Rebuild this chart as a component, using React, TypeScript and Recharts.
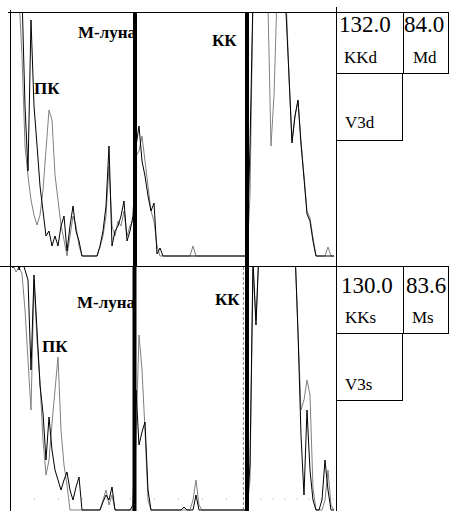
import React from 'react';
import { LineChart, Line, XAxis, YAxis, ReferenceLine } from 'recharts';

// one sample every 3 px of the trace, 109 samples per trace
const sampleIndex = Array.from({ length: 109 }, (_, i) => i);

// trace heights above the baseline (values over 244 run off the top of the panel)
const topGray = [
  260, 260, 260, 260, 200, 110, 80, 56, 41, 31,
  41, 66, 106, 146, 136, 81, 56, 31, 16, 0,
  20, 40, 30, 10, 0, 0, 0, 0, 0, 0,
  9, 20, 40, 90, 30, 20, 35, 30, 45, 20,
  30, 35, 100, 105, 120, 95, 70, 45, 35, 10,
  0, 0, 0, 0, 0, 0, 0, 0, 0, 0,
  0, 10, 0, 0, 0, 0, 0, 0, 0, 0,
  0, 0, 0, 0, 0, 0, 0, 0, 0, 0,
  60, 260, 260, 260, 260, 260, 250, 110, 160, 260,
  260, 260, 260, 180, 115, 140, 155, 115, 80, 45,
  38, 18, 0, 0, 0, 0, 9, 0, 0,
];
const topBlack = [
  260, 260, 260, 260, 260, 150, 85, 236, 150, 111,
  70, 45, 20, 25, 10, 20, 10, 30, 40, 5,
  30, 50, 25, 15, 0, 0, 0, 0, 0, 0,
  10, 25, 50, 110, 10, 25, 30, 40, 55, 15,
  25, 40, 110, 130, 95, 80, 60, 45, 53, 2,
  8, 0, 0, 0, 0, 0, 0, 0, 0, 0,
  0, 0, 0, 0, 0, 0, 0, 0, 0, 0,
  0, 0, 0, 0, 0, 0, 0, 0, 0, 0,
  110, 260, 260, 260, 260, 260, 260, 260, 260, 260,
  260, 260, 244, 180, 113, 140, 156, 112, 78, 42,
  35, 15, 0, 0, 0, 0, 0, 0, 0,
];
const bottomGray = [
  260, 245, 238, 243, 236, 200, 150, 100, 230, 170,
  128, 70, 35, 50, 87, 120, 153, 80, 45, 25,
  0, 0, 0, 0, 0, 0, 0, 0, 0, 0,
  0, 10, 20, 5, 15, 0, 0, 0, 0, 0,
  0, 0, 70, 175, 140, 80, 10, 0, 0, 0,
  0, 0, 0, 0, 0, 0, 0, 0, 0, 0,
  0, 10, 30, 5, 0, 0, 0, 0, 0, 0,
  0, 0, 0, 0, 0, 0, 0, 0, 0, 0,
  30, 240, 190, 260, 260, 260, 260, 260, 260, 260,
  260, 260, 260, 260, 260, 260, 178, 100, 110, 130,
  115, 22, 0, 0, 0, 10, 40, 5, 0,
];
const bottomBlack = [
  260, 242, 260, 240, 250, 240, 230, 140, 235, 180,
  125, 97, 50, 93, 60, 40, 30, 20, 30, 38,
  20, 10, 23, 33, 0, 0, 0, 0, 0, 0,
  0, 8, 15, 10, 23, 0, 0, 0, 0, 0,
  0, 5, 120, 65, 78, 88, 20, 0, 0, 0,
  0, 0, 0, 0, 0, 0, 0, 0, 3, 0,
  0, 0, 15, 0, 0, 0, 0, 0, 0, 0,
  0, 0, 0, 0, 0, 0, 0, 0, 0, 0,
  45, 250, 185, 260, 260, 260, 260, 260, 260, 260,
  260, 260, 260, 260, 260, 260, 178, 75, 15, 100,
  40, 10, 0, 0, 10, 50, 20, 0, 0,
];

// event markers, in samples: М-луна and КК
const topMarkers = [41.67, 79];
const bottomMarkers = [41.5, 79];
const bottomDashedMarker = 77.8;

const tableValues = [['132.0', '84.0'], ['130.0', '83.6']];
const tableLabels = [['KKd', 'Md', 'V3d'], ['KKs', 'Ms', 'V3s']];

const serif = 'Liberation Serif, serif';

function Panel({ black, gray, markers, dashed, top }: any) {
  const data = sampleIndex.map((i) => ({ i, black: black[i], gray: gray[i] }));
  return (
    <div style={{ position: 'absolute', left: 0, top }}>
      <LineChart width={336} height={266} data={data} margin={{ top: 12, right: 0, bottom: 0, left: 10 }}>
        <XAxis dataKey="i" type="number" domain={[0, 108.667]} hide allowDataOverflow />
        <YAxis type="number" domain={[-10, 244]} hide allowDataOverflow />
        {dashed !== undefined && (
          <>
            <ReferenceLine
              segment={[{ x: 0, y: 11 }, { x: dashed, y: 11 }]}
              stroke="#aaa"
              strokeDasharray="1 23"
            />
            <ReferenceLine
              segment={[{ x: 79.5, y: 11 }, { x: 108.6, y: 11 }]}
              stroke="#aaa"
              strokeDasharray="1 11"
            />
            <ReferenceLine x={dashed} stroke="#888" strokeDasharray="3 2" />
          </>
        )}
        <Line dataKey="gray" stroke="#808080" strokeWidth={1} dot={false} isAnimationActive={false} type="linear" />
        <Line dataKey="black" stroke="#000" strokeWidth={1} dot={false} isAnimationActive={false} type="linear" />
        {markers.map((m: number) => (
          <ReferenceLine key={m} x={m} stroke="#000" strokeWidth={4} />
        ))}
      </LineChart>
    </div>
  );
}

function T({ x, y, size, bold, children }: any) {
  return (
    <text x={x} y={y} fontFamily={serif} fontSize={size} fontWeight={bold ? 700 : 400} fill="#000">
      {children}
    </text>
  );
}

function Overlay() {
  return (
    <svg width={449} height={511} style={{ position: 'absolute', left: 0, top: 0 }}>
      <g stroke="#000" strokeWidth={1} shapeRendering="crispEdges">
        <line x1={8} y1={12.5} x2={449} y2={12.5} />
        <line x1={0} y1={266.5} x2={449} y2={266.5} />
        <line x1={10.5} y1={10} x2={10.5} y2={511} />
        <line x1={336.5} y1={7} x2={336.5} y2={511} />
        {/* top table */}
        <line x1={336} y1={73.5} x2={449} y2={73.5} />
        <line x1={403.5} y1={12} x2={403.5} y2={73} />
        <line x1={448.5} y1={12} x2={448.5} y2={73} />
        <line x1={402.5} y1={73} x2={402.5} y2={141} />
        <line x1={336} y1={140.5} x2={403} y2={140.5} />
        {/* bottom table */}
        <line x1={336} y1={333.5} x2={449} y2={333.5} />
        <line x1={403.5} y1={266} x2={403.5} y2={333} />
        <line x1={448.5} y1={266} x2={448.5} y2={333} />
        <line x1={402.5} y1={333} x2={402.5} y2={401} />
        <line x1={336} y1={400.5} x2={403} y2={400.5} />
      </g>

      <T x={78} y={38} size={17} bold>М-луна</T>
      <T x={34} y={94} size={17} bold>ПК</T>
      <T x={212} y={46} size={17} bold>КК</T>

      <T x={77} y={308} size={17} bold>М-луна</T>
      <T x={42} y={352} size={17} bold>ПК</T>
      <T x={215} y={305} size={17} bold>КК</T>

      <T x={339} y={32} size={23}>{tableValues[0][0]}</T>
      <T x={404} y={32} size={23}>{tableValues[0][1]}</T>
      <T x={344} y={63} size={17}>{tableLabels[0][0]}</T>
      <T x={413} y={63} size={17}>{tableLabels[0][1]}</T>
      <T x={345} y={128} size={17}>{tableLabels[0][2]}</T>

      <T x={341} y={293} size={23}>{tableValues[1][0]}</T>
      <T x={406} y={293} size={23}>{tableValues[1][1]}</T>
      <T x={345} y={323} size={17}>{tableLabels[1][0]}</T>
      <T x={412} y={323} size={17}>{tableLabels[1][1]}</T>
      <T x={345} y={390} size={17}>{tableLabels[1][2]}</T>
    </svg>
  );
}

export default function App() {
  return (
    <div style={{ position: 'absolute', left: 0, top: 0, width: 449, height: 511, overflow: 'hidden', background: '#fff' }}>
      <Panel black={topBlack} gray={topGray} markers={topMarkers} top={0} />
      <Panel black={bottomBlack} gray={bottomGray} markers={bottomMarkers} dashed={bottomDashedMarker} top={254} />
      <Overlay />
    </div>
  );
}
